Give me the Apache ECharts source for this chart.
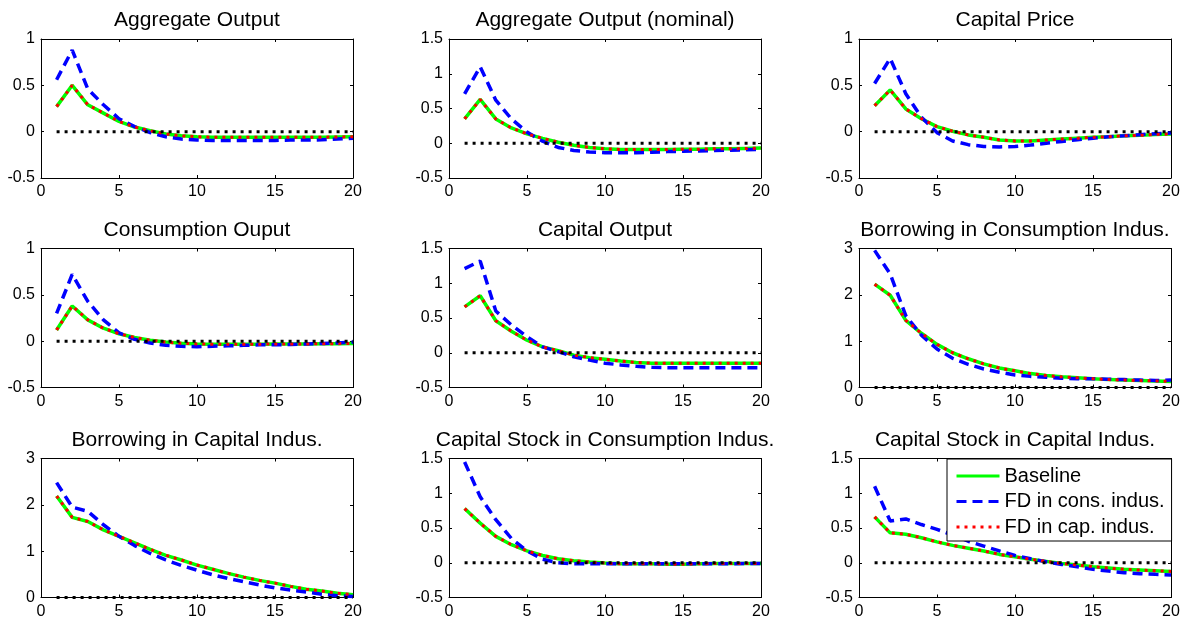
<!DOCTYPE html>
<html>
<head>
<meta charset="utf-8">
<title>Impulse responses</title>
<script src="https://cdn.jsdelivr.net/npm/echarts@6.0.0/dist/echarts.min.js"></script>
<style>
  html, body { margin: 0; padding: 0; background: #fff; }
  #chart { width: 1189px; height: 620px; }
</style>
</head>
<body>
<div id="chart"></div>
<script>
// horizon (quarters)
var steps = [1,2,3,4,5,6,7,8,9,10,11,12,13,14,15,16,17,18,19,20];

// Aggregate Output
var aggBase = [0.27,0.50,0.29,0.20,0.11,0.05,0.01,-0.025,-0.045,-0.055,-0.06,-0.06,-0.06,-0.06,-0.06,-0.06,-0.06,-0.06,-0.057,-0.055];
var aggCons = [0.56,0.88,0.46,0.29,0.14,0.055,-0.01,-0.055,-0.08,-0.09,-0.095,-0.095,-0.095,-0.095,-0.095,-0.09,-0.09,-0.088,-0.08,-0.07];
var aggCap  = [0.27,0.50,0.29,0.20,0.11,0.05,0.01,-0.025,-0.045,-0.055,-0.06,-0.06,-0.06,-0.06,-0.06,-0.06,-0.06,-0.06,-0.057,-0.055];

// Aggregate Output (nominal)
var nomBase = [0.35,0.63,0.35,0.22,0.135,0.07,0.015,-0.03,-0.06,-0.08,-0.09,-0.09,-0.09,-0.09,-0.085,-0.085,-0.08,-0.08,-0.075,-0.07];
var nomCons = [0.71,1.10,0.62,0.35,0.16,0.03,-0.06,-0.105,-0.125,-0.135,-0.135,-0.135,-0.13,-0.12,-0.115,-0.11,-0.105,-0.1,-0.095,-0.085];
var nomCap  = [0.35,0.63,0.35,0.22,0.135,0.07,0.015,-0.03,-0.06,-0.08,-0.09,-0.09,-0.09,-0.09,-0.085,-0.085,-0.08,-0.08,-0.075,-0.07];

// Capital Price
var priceBase = [0.28,0.45,0.245,0.14,0.055,0.005,-0.035,-0.06,-0.09,-0.1,-0.1,-0.09,-0.08,-0.07,-0.06,-0.055,-0.045,-0.04,-0.03,-0.025];
var priceCons = [0.52,0.79,0.41,0.155,-0.01,-0.1,-0.14,-0.16,-0.165,-0.16,-0.145,-0.125,-0.105,-0.087,-0.07,-0.055,-0.045,-0.032,-0.022,-0.015];
var priceCap  = [0.28,0.45,0.245,0.14,0.055,0.005,-0.035,-0.06,-0.09,-0.1,-0.1,-0.09,-0.08,-0.07,-0.06,-0.055,-0.045,-0.04,-0.03,-0.025];

// Consumption Ouput
var consOutBase = [0.12,0.38,0.23,0.14,0.08,0.04,0.01,-0.01,-0.022,-0.03,-0.033,-0.033,-0.033,-0.033,-0.03,-0.03,-0.03,-0.028,-0.027,-0.025];
var consOutCons = [0.30,0.72,0.43,0.23,0.09,0.02,-0.02,-0.045,-0.055,-0.06,-0.055,-0.05,-0.045,-0.04,-0.04,-0.035,-0.03,-0.025,-0.02,-0.01];
var consOutCap  = [0.12,0.38,0.23,0.14,0.08,0.04,0.01,-0.01,-0.022,-0.03,-0.033,-0.033,-0.033,-0.033,-0.03,-0.03,-0.03,-0.028,-0.027,-0.025];

// Capital Output
var capOutBase = [0.66,0.82,0.46,0.31,0.18,0.085,0.03,-0.035,-0.07,-0.095,-0.12,-0.14,-0.15,-0.15,-0.15,-0.15,-0.15,-0.15,-0.15,-0.15];
var capOutCons = [1.21,1.32,0.60,0.40,0.23,0.085,0.015,-0.057,-0.105,-0.15,-0.175,-0.195,-0.21,-0.215,-0.215,-0.215,-0.215,-0.215,-0.215,-0.215];
var capOutCap  = [0.66,0.82,0.46,0.31,0.18,0.085,0.03,-0.035,-0.07,-0.095,-0.12,-0.14,-0.15,-0.15,-0.15,-0.15,-0.15,-0.15,-0.15,-0.15];

// Borrowing in Consumption Indus.
var borConsBase = [2.23,1.99,1.45,1.17,0.93,0.75,0.62,0.51,0.42,0.36,0.30,0.26,0.23,0.21,0.19,0.17,0.16,0.15,0.14,0.13];
var borConsCons = [2.96,2.45,1.55,1.13,0.83,0.63,0.50,0.40,0.33,0.27,0.24,0.22,0.20,0.19,0.19,0.18,0.17,0.16,0.15,0.16];
var borConsCap  = [2.23,1.99,1.45,1.17,0.93,0.75,0.62,0.51,0.42,0.36,0.30,0.26,0.23,0.21,0.19,0.17,0.16,0.15,0.14,0.13];

// Borrowing in Capital Indus.
var borCapBase = [2.19,1.73,1.64,1.46,1.32,1.18,1.04,0.91,0.81,0.70,0.61,0.52,0.44,0.37,0.31,0.24,0.18,0.14,0.09,0.06];
var borCapCons = [2.48,1.95,1.86,1.57,1.32,1.12,0.95,0.81,0.69,0.59,0.49,0.41,0.34,0.27,0.21,0.16,0.12,0.07,0.04,0.02];
var borCapCap  = [2.19,1.73,1.64,1.46,1.32,1.18,1.04,0.91,0.81,0.70,0.61,0.52,0.44,0.37,0.31,0.24,0.18,0.14,0.09,0.06];

// Capital Stock in Consumption Indus.
var kConsBase = [0.78,0.57,0.38,0.26,0.17,0.105,0.057,0.03,0.01,-0.005,-0.015,-0.015,-0.015,-0.02,-0.02,-0.015,-0.01,-0.01,-0.01,-0.01];
var kConsCons = [1.45,0.95,0.62,0.35,0.17,0.05,0.0,-0.015,-0.015,-0.015,-0.015,-0.015,-0.015,-0.015,-0.015,-0.015,-0.015,-0.015,-0.012,-0.01];
var kConsCap  = [0.78,0.57,0.38,0.26,0.17,0.105,0.057,0.03,0.01,-0.005,-0.015,-0.015,-0.015,-0.02,-0.02,-0.015,-0.01,-0.01,-0.01,-0.01];

// Capital Stock in Capital Indus.
var kCapBase = [0.66,0.43,0.41,0.36,0.30,0.25,0.21,0.17,0.12,0.086,0.05,0.02,-0.01,-0.033,-0.057,-0.076,-0.095,-0.105,-0.115,-0.125];
var kCapCons = [1.10,0.60,0.63,0.55,0.48,0.40,0.31,0.24,0.17,0.105,0.057,0.014,-0.024,-0.057,-0.095,-0.12,-0.143,-0.157,-0.167,-0.176];
var kCapCap  = [0.66,0.43,0.41,0.36,0.30,0.25,0.21,0.17,0.12,0.086,0.05,0.02,-0.01,-0.033,-0.057,-0.076,-0.095,-0.105,-0.115,-0.125];

var seriesNames = ['Baseline', 'FD in cons. indus.', 'FD in cap. indus.'];
var zeroLevel = 0;

// one entry per subplot, row by row
var panels = [
  { title: 'Aggregate Output',                    min: -0.5, max: 1,   step: 0.5, lines: [aggBase, aggCons, aggCap] },
  { title: 'Aggregate Output (nominal)',          min: -0.5, max: 1.5, step: 0.5, lines: [nomBase, nomCons, nomCap] },
  { title: 'Capital Price',                       min: -0.5, max: 1,   step: 0.5, lines: [priceBase, priceCons, priceCap] },
  { title: 'Consumption Ouput',                   min: -0.5, max: 1,   step: 0.5, lines: [consOutBase, consOutCons, consOutCap] },
  { title: 'Capital Output',                      min: -0.5, max: 1.5, step: 0.5, lines: [capOutBase, capOutCons, capOutCap] },
  { title: 'Borrowing in Consumption Indus.',     min: 0,    max: 3,   step: 1,   lines: [borConsBase, borConsCons, borConsCap] },
  { title: 'Borrowing in Capital Indus.',         min: 0,    max: 3,   step: 1,   lines: [borCapBase, borCapCons, borCapCap] },
  { title: 'Capital Stock in Consumption Indus.', min: -0.5, max: 1.5, step: 0.5, lines: [kConsBase, kConsCons, kConsCap] },
  { title: 'Capital Stock in Capital Indus.',     min: -0.5, max: 1.5, step: 0.5, lines: [kCapBase, kCapCons, kCapCap] }
];

var font = '"Liberation Sans", Arial, sans-serif';
var colLeft = [41, 449, 859];
var rowTop = [39, 248.5, 458.5];
var plotW = 312, plotH = 139;

// line look of each series (MATLAB style)
var lineLook = [
  { color: '#00ff00', width: 3.5, type: 'solid' },
  { color: '#0000ff', width: 3.5, type: [10, 6] },
  { color: '#ff0000', width: 3, type: [3, 5] }
];

function pairs(ys) {
  return steps.map(function (x, i) { return [x, ys[i]]; });
}

var grids = [], xAxes = [], yAxes = [], titles = [], series = [];

panels.forEach(function (p, i) {
  var left = colLeft[i % 3], top = rowTop[Math.floor(i / 3)];

  grids.push({ left: left, top: top, width: plotW, height: plotH, outerBoundsMode: 'none' });

  titles.push({
    text: p.title, left: left + plotW / 2, top: top - 29, textAlign: 'center', padding: 0,
    textStyle: { fontSize: 21, fontWeight: 'normal', color: '#000', fontFamily: font }
  });

  var frame = { show: true, onZero: false, lineStyle: { color: '#000', width: 1 } };
  var tick = { show: true, inside: true, length: 3, lineStyle: { color: '#000' } };
  var label = { color: '#000', fontSize: 16, fontFamily: font, margin: 6 };

  // bottom + top x axes, left + right y axes -> closed box with inner ticks
  xAxes.push({ type: 'value', gridIndex: i, position: 'bottom', min: 0, max: 20, interval: 5,
    axisLine: frame, axisTick: tick, axisLabel: label, splitLine: { show: false } });
  xAxes.push({ type: 'value', gridIndex: i, position: 'top', min: 0, max: 20, interval: 5,
    axisLine: frame, axisTick: tick, axisLabel: { show: false }, splitLine: { show: false } });
  yAxes.push({ type: 'value', gridIndex: i, position: 'left', min: p.min, max: p.max, interval: p.step,
    axisLine: frame, axisTick: tick, axisLabel: label, splitLine: { show: false } });
  yAxes.push({ type: 'value', gridIndex: i, position: 'right', min: p.min, max: p.max, interval: p.step,
    axisLine: frame, axisTick: tick, axisLabel: { show: false }, splitLine: { show: false } });

  p.lines.forEach(function (ys, k) {
    var look = lineLook[k];
    series.push({
      name: seriesNames[k], type: 'line', xAxisIndex: 2 * i, yAxisIndex: 2 * i,
      data: pairs(ys), symbol: 'none', color: look.color, z: 3 + k,
      lineStyle: { color: look.color, width: look.width, type: look.type }
    });
  });

  // dotted zero reference line
  series.push({
    name: 'zero', type: 'line', xAxisIndex: 2 * i, yAxisIndex: 2 * i, clip: false,
    data: [[steps[0], zeroLevel], [steps[steps.length - 1], zeroLevel]],
    symbol: 'none', color: '#000', z: 7,
    lineStyle: { color: '#000', width: 3, type: [3, 5] }
  });
});

var chart = echarts.init(document.getElementById('chart'));
chart.setOption({
  animation: false,
  backgroundColor: '#fff',
  textStyle: { fontFamily: font },
  title: titles,
  grid: grids,
  xAxis: xAxes,
  yAxis: yAxes,
  legend: {
    data: seriesNames,
    orient: 'vertical',
    left: 947, top: 459,
    padding: [7, 7, 4, 8],
    itemGap: 5.5, itemWidth: 43, itemHeight: 14,
    backgroundColor: '#fff', borderColor: '#000', borderWidth: 1, borderRadius: 0,
    itemStyle: { opacity: 0 },
    lineStyle: { width: 3 },
    textStyle: { fontSize: 20, color: '#000', fontFamily: font, lineHeight: 20 },
    selectedMode: false,
    z: 10
  },
  series: series
});
</script>
</body>
</html>
